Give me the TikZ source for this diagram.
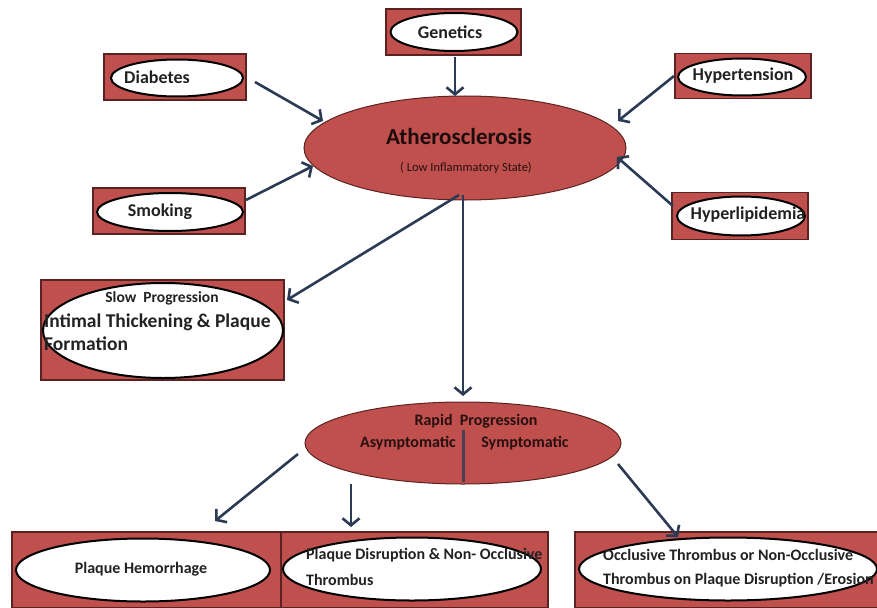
\documentclass[tikz,border=0pt]{standalone}
\usepackage{fontspec}
\setmainfont{Carlito}
\usetikzlibrary{shapes.geometric,arrows.meta}
\definecolor{boxred}{HTML}{C0504D}
\definecolor{boxedge}{HTML}{5A2220}
\definecolor{navy}{HTML}{2B3A55}
\definecolor{txt}{HTML}{222222}
\tikzset{
  redbox/.style={rectangle, fill=boxred, draw=boxedge, line width=1.2pt, inner sep=0pt},
  whiteell/.style={ellipse, fill=white, draw=black, line width=2pt, inner sep=0pt},
  redell/.style={ellipse, fill=boxred, draw=boxedge, line width=1pt, inner sep=0pt},
  lbl/.style={font=\bfseries, text=txt, inner sep=0pt},
  big/.style={font=\bfseries\fontsize{18}{21}\selectfont},
  mid/.style={font=\bfseries\fontsize{16}{19}\selectfont},
  arr/.style={draw=navy, line width=2.6pt, -{Straight Barb[length=7pt,width=17pt]}},
}
\begin{document}
\begin{tikzpicture}[x=1pt,y=-1pt]
\useasboundingbox (0,0) rectangle (877,607);
% risk factor boxes
\node[redbox, minimum width=135, minimum height=46] (genB) at (453.5,32) {};
\node[whiteell, minimum width=127, minimum height=38] (genE) at (454,32) {};
\node[lbl, big] (gen) at (450,32) {Genetics};

\node[redbox, minimum width=142, minimum height=46] (diaB) at (175,77) {};
\node[whiteell, minimum width=132, minimum height=37] (diaE) at (177,78) {};
\node[lbl, big] (dia) at (157,77) {Diabetes};

\node[redbox, minimum width=136, minimum height=45] (hypB) at (743,76) {};
\node[whiteell, minimum width=128, minimum height=37] (hypE) at (742,77) {};
\node[lbl, big] (hyp) at (743,76) {Hypertension};

\node[redbox, minimum width=152, minimum height=46] (smoB) at (169,211) {};
\node[whiteell, minimum width=146, minimum height=38] (smoE) at (170,212) {};
\node[lbl, big] (smo) at (160,212) {Smoking};

\node[redbox, minimum width=136, minimum height=47] (lipB) at (740,216) {};
\node[whiteell, minimum width=128, minimum height=39] (lipE) at (741,216) {};
\node[lbl, big] (lip) at (748,215) {Hyperlipidemia};

% atherosclerosis
\node[redell, minimum width=322, minimum height=104] (ath) at (465,148) {};
\node[lbl, font=\bfseries\fontsize{23}{26}\selectfont, text=black!85!boxred] (athT) at (459,137) {Atherosclerosis};
\node[lbl, font=\fontsize{12.5}{14}\selectfont, text=black!80!boxred] (athS) at (466,168) {( Low Inflammatory State)};

% slow progression
\node[redbox, minimum width=243, minimum height=100] (slowB) at (162.5,330) {};
\node[whiteell, minimum width=240, minimum height=95] (slowE) at (163,330.5) {};
\node[lbl, font=\bfseries\fontsize{15.5}{18}\selectfont] (slowT) at (162,298) {Slow\ \ Progression};
\node[lbl, anchor=west, font=\bfseries\fontsize{19.5}{22}\selectfont] (slow1) at (44,322) {Intimal Thickening \& Plaque};
\node[lbl, anchor=west, font=\bfseries\fontsize{19.5}{22}\selectfont] (slow2) at (44,344) {Formation};

% rapid progression
\node[redell, minimum width=316, minimum height=82] (rap) at (463,443) {};
\node[lbl, mid, text=black!80!boxred] (rapT) at (476,421) {Rapid\ \ Progression};
\node[lbl, mid, text=black!80!boxred] (asy) at (408,443) {Asymptomatic};
\node[lbl, mid, text=black!80!boxred] (sym) at (525,443) {Symptomatic};
\coordinate (divTop) at (463,430);
\coordinate (divBot) at (463,482);
\draw[draw=navy!80!boxred, line width=3pt] (divTop) -- (divBot);

% bottom boxes
\node[redbox, minimum width=271, minimum height=76] (hemB) at (147.5,570) {};
\node[whiteell, minimum width=254, minimum height=63] (hemE) at (143,570) {};
\node[lbl, mid] (hem) at (141,569) {Plaque Hemorrhage};

\node[redbox, minimum width=267, minimum height=76] (disB) at (414.5,570) {};
\node[whiteell, minimum width=258, minimum height=63] (disE) at (412,569) {};
\node[lbl, anchor=west, mid] (dis1) at (306,555) {Plaque Disruption \& Non- Occlusive};
\node[lbl, anchor=west, mid] (dis2) at (306,580) {Thrombus};

\node[redbox, minimum width=303, minimum height=76] (occB) at (726.5,570) {};
\node[whiteell, minimum width=298, minimum height=63] (occE) at (728,569) {};
\node[lbl, anchor=west, mid] (occ1) at (603,555) {Occlusive Thrombus or Non-Occlusive};
\node[lbl, anchor=west, mid] (occ2) at (603,580) {Thrombus on Plaque Disruption /Erosion};

% arrow end points
\coordinate (genS) at (455,57);
\coordinate (genT) at (455,96);
\coordinate (diaS) at (255,82);
\coordinate (diaT) at (323,121);
\coordinate (hypS) at (674,76);
\coordinate (hypT) at (618,121);
\coordinate (smoS) at (246,200);
\coordinate (smoT) at (313,166);
\coordinate (lipS) at (673,206);
\coordinate (lipT) at (617,157);
\coordinate (slowS) at (459,195);
\coordinate (slowTT) at (287,300);
\coordinate (rapS) at (463,195);
\coordinate (rapTT) at (463,396);
\coordinate (hemS) at (298,454);
\coordinate (hemT) at (215,521);
\coordinate (disS) at (351,484);
\coordinate (disT) at (351,527);
\coordinate (occS) at (618,464);
\coordinate (occT) at (678,537);

\draw[arr] (genS) -- (genT);
\draw[arr] (diaS) -- (diaT);
\draw[arr] (hypS) -- (hypT);
\draw[arr] (smoS) -- (smoT);
\draw[arr] (lipS) -- (lipT);
\draw[arr] (slowS) -- (slowTT);
\draw[arr] (rapS) -- (rapTT);
\draw[arr] (hemS) -- (hemT);
\draw[arr] (disS) -- (disT);
\draw[arr] (occS) -- (occT);
\end{tikzpicture}
\end{document}
